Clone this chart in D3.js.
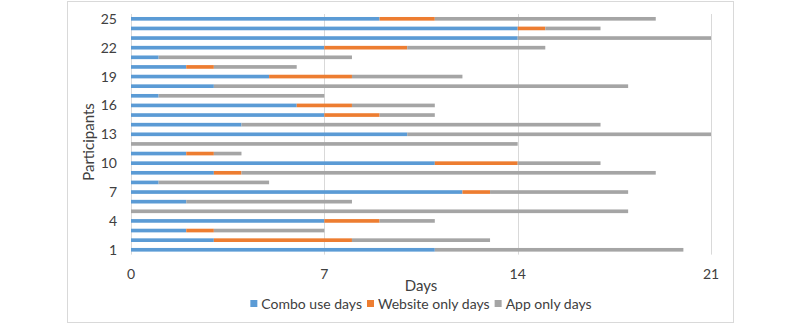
<!DOCTYPE html>
<html>
<head>
<meta charset="utf-8">
<script src="https://cdn.jsdelivr.net/npm/d3@7"></script>
<style>
  body { margin: 0; background: #fff; }
  svg { display: block; font-family: Lato, "Open Sans", sans-serif; }
</style>
</head>
<body>
<svg id="chart" width="800" height="324"></svg>
<script>
// participants 1..25
const participants = d3.range(1, 26);
const comboDays   = [11, 3, 2, 7, 0, 2, 12, 1, 3, 11, 2, 0, 10, 4, 7, 6, 1, 3, 5, 2, 1, 7, 14, 14, 9];
const websiteDays = [0, 5, 1, 2, 0, 0, 1, 0, 1, 3, 1, 0, 0, 0, 2, 2, 0, 0, 3, 1, 0, 3, 0, 1, 2];
const appDays     = [9, 5, 4, 2, 18, 6, 5, 4, 15, 3, 1, 14, 11, 13, 2, 3, 6, 15, 4, 3, 7, 5, 7, 2, 8];

const seriesNames = ["Combo use days", "Website only days", "App only days"];
const colors = ["#5B9BD5", "#ED7D31", "#A5A5A5"];
const xTicks = [0, 7, 14, 21];
const yTicks = [1, 4, 7, 10, 13, 16, 19, 22, 25];

const rows = participants.map((p, i) => ({
  p: p,
  "Combo use days": comboDays[i],
  "Website only days": websiteDays[i],
  "App only days": appDays[i]
}));

const svg = d3.select("#chart");

// outer frame
svg.append("rect")
  .attr("x", 67.5).attr("y", 1.5)
  .attr("width", 666).attr("height", 321)
  .attr("fill", "none").attr("stroke", "#d9d9d9");

const x = d3.scaleLinear().domain([0, 21]).range([131, 711]);
const y = d3.scaleBand()
  .domain(participants.slice().reverse())
  .range([14, 254.6])
  .paddingInner(0.62)
  .paddingOuter(0.31);

// gridlines
svg.append("g").selectAll("line")
  .data(xTicks)
  .join("line")
  .attr("x1", d => Math.round(x(d)) + 0.5)
  .attr("x2", d => Math.round(x(d)) + 0.5)
  .attr("y1", 14).attr("y2", 254.6)
  .attr("stroke", "#d9d9d9");

const stack = d3.stack().keys(seriesNames);
const layers = stack(rows);

svg.append("g").selectAll("g")
  .data(layers)
  .join("g")
  .attr("fill", (d, i) => colors[i])
  .selectAll("rect")
  .data(d => d)
  .join("rect")
  .attr("x", d => x(d[0]))
  .attr("width", d => x(d[1]) - x(d[0]))
  .attr("y", d => y(d.data.p))
  .attr("height", y.bandwidth());

// x tick labels
svg.append("g").selectAll("text")
  .data(xTicks)
  .join("text")
  .attr("x", d => x(d))
  .attr("y", 279)
  .attr("text-anchor", "middle")
  .attr("font-size", 14)
  .attr("fill", "#404040")
  .text(d => d);

// y tick labels
svg.append("g").selectAll("text")
  .data(yTicks)
  .join("text")
  .attr("x", 117)
  .attr("y", d => y(d) + y.bandwidth() / 2 + 5)
  .attr("text-anchor", "end")
  .attr("font-size", 14)
  .attr("fill", "#404040")
  .text(d => d);

// axis titles
svg.append("text")
  .attr("x", 421).attr("y", 291)
  .attr("text-anchor", "middle")
  .attr("font-size", 15)
  .attr("fill", "#404040")
  .text("Days");

svg.append("text")
  .attr("transform", "translate(94,142) rotate(-90)")
  .attr("text-anchor", "middle")
  .attr("font-size", 15)
  .attr("fill", "#404040")
  .text("Participants");

// legend
const legend = svg.append("g");
const items = legend.selectAll("g")
  .data(seriesNames)
  .join("g");

items.append("rect")
  .attr("width", 7).attr("height", 7)
  .attr("y", -4)
  .attr("fill", (d, i) => colors[i]);

items.append("text")
  .attr("x", 11)
  .attr("y", 4.5)
  .attr("font-size", 14)
  .attr("fill", "#404040")
  .text(d => d);

let offset = 0;
items.each(function () {
  const w = d3.select(this).select("text").node().getComputedTextLength() + 11;
  d3.select(this).attr("transform", `translate(${offset},0)`);
  offset += w + 5;
});
const total = offset - 5;
legend.attr("transform", `translate(${421 - total / 2},304)`);
</script>
</body>
</html>
